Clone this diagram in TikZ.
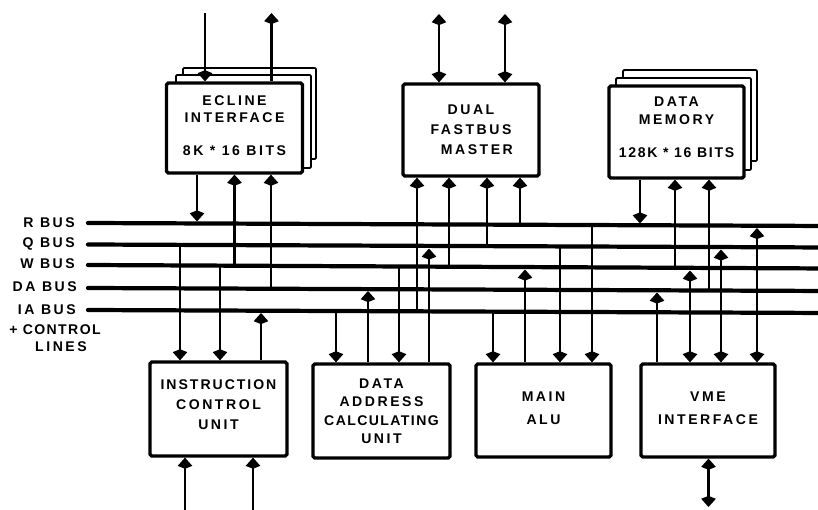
\documentclass[tikz,border=0pt]{standalone}
\usepackage{fontspec}
\usepackage{tikz}
\usetikzlibrary{arrows.meta}
\newfontfamily\labelfont[LetterSpace=18]{Liberation Sans}
\newcommand{\lift}[1]{\rule[-#1]{0pt}{#1}}

\begin{document}
\begin{tikzpicture}[
    x=0.03cm, y=-0.03cm,
    >={Kite[length=9.5pt,width=12.5pt,inset=2.5pt]},
    unitbox/.style={draw, fill=white, line width=2.8pt, rounded corners=1.5pt, inner sep=0pt, align=center, font=\labelfont\bfseries\fontsize{12}{14.4}\selectfont},
    stackbox/.style={draw, fill=white, line width=1.6pt, rounded corners=1pt},
    busline/.style={line width=3.6pt, line cap=round},
    sigline/.style={line width=2.1pt},
    buslabel/.style={font=\labelfont\bfseries\fontsize{12}{14.4}\selectfont, inner sep=0pt}
]

\useasboundingbox (0,0) rectangle (818,510);

% Stacked boards

\draw[stackbox] (183,68) rectangle (316,159);
\draw[stackbox] (176,75) rectangle (311,168);

\draw[stackbox] (623,70) rectangle (757,161);
\draw[stackbox] (616,78) rectangle (751,170);

% Units

\node[unitbox, minimum width=4.08cm, minimum height=2.7cm] (ecline) at (234.5,128)
    {ECLINE\\INTERFACE\\[14pt]8K * 16 BITS\lift{4pt}};

\node[unitbox, minimum width=4.08cm, minimum height=2.76cm] (fastbus) at (471,130)
    {DUAL\\[2.6pt]FASTBUS\\[2.6pt]\hspace{10pt}MASTER};

\node[unitbox, minimum width=4.05cm, minimum height=2.76cm] (memory) at (676.5,132)
    {DATA\\[1pt]MEMORY\\[14pt]{\addfontfeature{LetterSpace=12}128K * 16 BITS}\lift{8pt}};

\node[unitbox, minimum width=4.11cm, minimum height=2.82cm] (control) at (218.5,409)
    {{\addfontfeature{LetterSpace=14}INSTRUCTION}\\[2.6pt]CONTROL\\[2.6pt]UNIT\lift{7pt}};

\node[unitbox, minimum width=4.11cm, minimum height=2.82cm] (address) at (381.5,411)
    {DATA\\[1.4pt]ADDRESS\\[1.4pt]{\addfontfeature{LetterSpace=10}CALCULATING}\\[1.4pt]UNIT};

\node[unitbox, minimum width=4.05cm, minimum height=2.79cm] (alu) at (543.5,410.5)
    {MAIN\\[5pt]ALU\lift{4pt}};

\node[unitbox, minimum width=4.02cm, minimum height=2.79cm] (vme) at (708,410.5)
    {VME\\[5pt]INTERFACE\lift{4pt}};

% Bus labels

\node[buslabel, anchor=east] (rlabel) at (75,223) {R BUS};
\node[buslabel, anchor=east] (qlabel) at (75,243.5) {Q BUS};
\node[buslabel, anchor=east] (wlabel) at (75,264) {W BUS};
\node[buslabel, anchor=east] (dalabel) at (77,287) {DA BUS};
\node[buslabel, anchor=east] (ialabel) at (76,310) {IA BUS};
\node[buslabel] (ctrllabel) at (55,330) {\addfontfeature{LetterSpace=10}+ CONTROL};
\node[buslabel] (lineslabel) at (61,346.5) {LINES};

% Buses

\coordinate (rleft) at (88,223);    \coordinate (rright) at (830,226);
\coordinate (qleft) at (88,244.5);  \coordinate (qright) at (830,247.5);
\coordinate (wleft) at (88,265);    \coordinate (wright) at (830,268.5);
\coordinate (daleft) at (88,288);   \coordinate (daright) at (830,291);
\coordinate (ialeft) at (88,310);   \coordinate (iaright) at (830,313);

\foreach \bus in {r,q,w,da,ia}
    \draw[busline] (\bus left) -- (\bus right);

% Tap points on the buses

\foreach \tap/\x/\y in {
    r197/197/221.5, w234/234.5/265.7, da271/271/288.8,
    ia417/417/311.7, w449/449/266.7, q487/487/246.1, r520/520/224.8,
    r640/640/223.5, w675/675/267.8, da709/709/290.5,
    r757/757/228, q721/721/249.5, w690/690/270.5, da657/657/292.5,
    q180/180/244.9, w220/220/265.6, ia261/261/313,
    ia336/336/311, da368/368/291, w399/399/266.5, q429/429/248.5,
    ia493/493/311.7, w525/525/269.5, q560/560/246.5, r592/592/225}
    \coordinate (\tap) at (\x,\y);

% Outside lines

\foreach \pin/\x/\y in {
    einlet/205/13, eoutlet/271.5/13, fone/439/14, ftwo/505/14,
    cone/185/510, ctwo/253/510, vone/708.5/507}
    \coordinate (\pin) at (\x,\y);

\draw[sigline, ->] (einlet) -- (einlet |- ecline.north);
\draw[sigline, ->] (eoutlet |- ecline.north) -- (eoutlet);
\draw[sigline, <->] (fone |- fastbus.north) -- (fone);
\draw[sigline, <->] (ftwo |- fastbus.north) -- (ftwo);
\draw[sigline, ->] (cone) -- (cone |- control.south);
\draw[sigline, ->] (ctwo) -- (ctwo |- control.south);
\draw[sigline, <->] (vone |- vme.south) -- (vone);

% Upper units to buses

\draw[sigline, ->] (r197 |- ecline.south) -- (r197);
\draw[sigline, ->] (w234) -- (w234 |- ecline.south);
\draw[sigline, ->] (da271) -- (da271 |- ecline.south);

\draw[sigline, ->] (ia417) -- (ia417 |- fastbus.south);
\draw[sigline, ->] (w449) -- (w449 |- fastbus.south);
\draw[sigline, ->] (q487) -- (q487 |- fastbus.south);
\draw[sigline, ->] (r520) -- (r520 |- fastbus.south);

\draw[sigline, ->] (r640 |- memory.south) -- (r640);
\draw[sigline, ->] (w675) -- (w675 |- memory.south);
\draw[sigline, ->] (da709) -- (da709 |- memory.south);

% Lower units to buses

\draw[sigline, ->] (q180) -- (q180 |- control.north);
\draw[sigline, ->] (w220) -- (w220 |- control.north);
\draw[sigline, ->] (ia261 |- control.north) -- (ia261);

\draw[sigline, ->] (ia336) -- (ia336 |- address.north);
\draw[sigline, ->] (da368 |- address.north) -- (da368);
\draw[sigline, ->] (w399) -- (w399 |- address.north);
\draw[sigline, ->] (q429 |- address.north) -- (q429);

\draw[sigline, ->] (ia493) -- (ia493 |- alu.north);
\draw[sigline, ->] (w525 |- alu.north) -- (w525);
\draw[sigline, ->] (q560) -- (q560 |- alu.north);
\draw[sigline, ->] (r592) -- (r592 |- alu.north);

\draw[sigline, ->] (da657 |- vme.north) -- (da657);
\draw[sigline, <->] (w690 |- vme.north) -- (w690);
\draw[sigline, <->] (q721 |- vme.north) -- (q721);
\draw[sigline, <->] (r757 |- vme.north) -- (r757);

\end{tikzpicture}
\end{document}
